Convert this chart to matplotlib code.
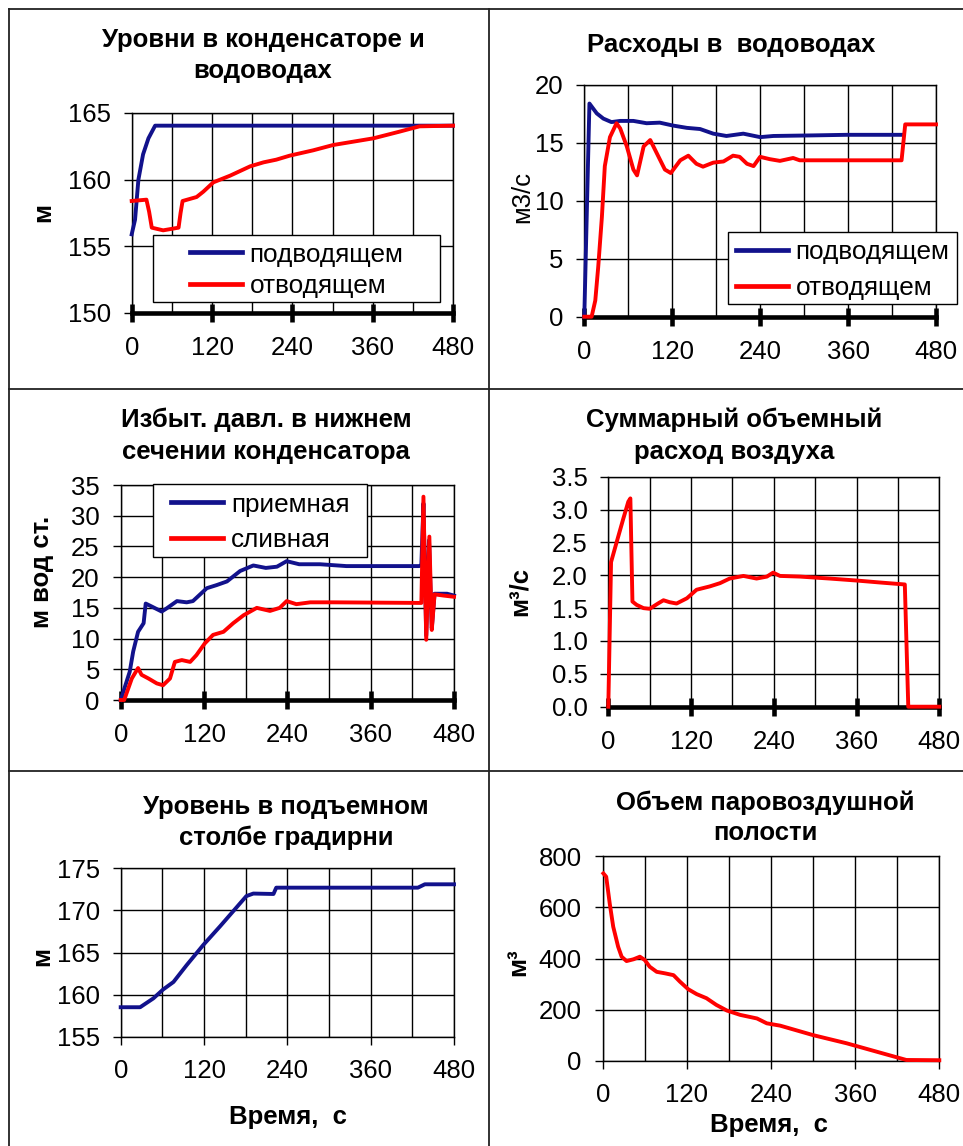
import matplotlib
matplotlib.use('Agg')
import matplotlib.pyplot as plt
from matplotlib.ticker import MultipleLocator, FormatStrFormatter
from matplotlib.patches import Rectangle
from matplotlib.lines import Line2D

plt.rcParams['font.family'] = ['Liberation Sans', 'DejaVu Sans']

# ---------------- data ----------------
# Panel 1: levels in condenser & water conduits (m)
lvl_in_t = [0, 5, 10, 17, 25, 35, 480]
lvl_in_v = [155.9, 157.0, 160.0, 161.9, 163.1, 164.05, 164.05]
lvl_out_t = [0, 22, 26, 30, 47, 70, 73, 76, 97, 107, 122, 147, 177, 197, 216, 236, 271, 301, 361, 400, 430, 480]
lvl_out_v = [158.4, 158.5, 157.6, 156.4, 156.2, 156.4, 157.5, 158.4, 158.7, 159.1, 159.8, 160.3, 161.0, 161.3, 161.5, 161.8, 162.2, 162.6, 163.1, 163.6, 164.0, 164.05]

# Panel 2: flow rates (m3/s)
q_in_t = [0, 7, 17, 26, 37, 49, 67, 85, 103, 121, 140, 158, 176, 194, 217, 240, 258, 312, 358, 433]
q_in_v = [0, 18.4, 17.55, 17.1, 16.8, 16.9, 16.9, 16.7, 16.75, 16.5, 16.3, 16.2, 15.8, 15.6, 15.8, 15.5, 15.6, 15.65, 15.7, 15.7]
q_out_t = [0, 10, 15, 19, 24, 28, 35, 44, 49, 58, 67, 72, 81, 90, 99, 110, 118, 131, 142, 153, 162, 176, 190, 203, 212, 222, 231, 240, 253, 267, 285, 294, 433, 438, 480]
q_out_v = [0, 0, 1.4, 4.3, 8.6, 13.0, 15.5, 16.7, 16.25, 14.7, 12.7, 12.2, 14.7, 15.25, 14.1, 12.7, 12.4, 13.5, 13.9, 13.2, 12.95, 13.3, 13.4, 13.9, 13.8, 13.2, 13.0, 13.8, 13.6, 13.45, 13.7, 13.5, 13.5, 16.6, 16.6]

# Panel 3: overpressure (m water column)
p_in_t = [0, 13, 18, 25, 33, 36, 45, 59, 66, 81, 95, 104, 124, 138, 153, 172, 191, 209, 225, 239, 257, 287, 325, 430, 433, 436, 440, 444, 448, 452, 470, 480]
p_in_v = [0, 4.6, 7.9, 11.1, 12.5, 15.7, 15.2, 14.4, 14.9, 16.1, 15.9, 16.1, 18.2, 18.7, 19.3, 21.0, 21.9, 21.5, 21.7, 22.6, 22.1, 22.1, 21.8, 21.8, 22.0, 32.0, 10.5, 26.0, 11.7, 17.3, 17.3, 17.0]
p_out_t = [0, 5, 16, 25, 30, 40, 52, 61, 71, 78, 88, 100, 109, 121, 133, 148, 162, 177, 196, 215, 229, 239, 253, 273, 306, 433, 436, 440, 444.5, 448, 452, 465, 480]
p_out_v = [0, 0, 3.5, 5.2, 4.1, 3.5, 2.7, 2.4, 3.5, 6.2, 6.5, 6.2, 7.3, 9.2, 10.6, 11.1, 12.5, 13.8, 15.0, 14.5, 15.0, 16.1, 15.6, 15.9, 15.9, 15.8, 33.1, 9.8, 26.6, 11.4, 17.2, 17.0, 16.8]

# Panel 4: total air volume flow (m3/s)
air_t = [0, 4, 12, 22, 29, 32, 35, 41, 51, 60, 72, 80, 89, 99, 114, 128, 147, 162, 176, 196, 215, 230, 239, 249, 278, 321, 360, 394, 430, 435, 480]
air_v = [0, 2.2, 2.5, 2.87, 3.12, 3.17, 1.6, 1.55, 1.5, 1.49, 1.57, 1.62, 1.59, 1.57, 1.65, 1.78, 1.83, 1.88, 1.95, 1.99, 1.95, 1.98, 2.04, 1.99, 1.98, 1.95, 1.92, 1.89, 1.86, 0, 0]

# Panel 5: level in riser of cooling tower (m)
riser_t = [0, 28, 47, 61, 76, 95, 119, 143, 162, 181, 191, 220, 224, 428, 438, 480]
riser_v = [158.5, 158.5, 159.55, 160.6, 161.5, 163.5, 165.9, 168.1, 169.9, 171.7, 172.0, 171.95, 172.7, 172.7, 173.1, 173.1]

# Panel 6: volume of steam-air cavity (m3)
vol_t = [1, 5, 10, 15, 22, 27, 34, 44, 53, 60, 67, 77, 89, 101, 110, 122, 134, 148, 162, 177, 196, 220, 234, 253, 300, 348, 395, 433, 480]
vol_v = [732, 719, 615, 524, 446, 407, 390, 397, 407, 394, 368, 348, 342, 335, 310, 280, 261, 245, 219, 197, 180, 166, 147, 138, 101, 69, 33, 4, 3]

x_ticks = [0, 120, 240, 360, 480]

titles = [
    ["Уровни в конденсаторе и", "водоводах"],
    ["Расходы в  водоводах"],
    ["Избыт. давл. в нижнем", "сечении конденсатора"],
    ["Суммарный объемный", "расход воздуха"],
    ["Уровень в подъемном", "столбе градирни"],
    ["Объем паровоздушной", "полости"],
]
leg_labels_1 = ["подводящем", "отводящем"]
leg_labels_3 = ["приемная", "сливная"]
xlabel_text = "Время,  с"

# ---------------- figure ----------------
W, H = 963, 1146
fig = plt.figure(figsize=(W / 100, H / 100), dpi=100)
BLUE = '#12128c'
RED = '#ff0000'
FS = 18.5
TFS = 18.5
LFS = 18.8
LW = 2.8


def fx(px):
    return px / W


def fy(py):
    return 1 - py / H


def make_ax(x0, x1, y0, y1, ylim, ystep, thick=True, yfmt=None):
    ax = fig.add_axes([fx(x0), fy(y1), (x1 - x0) / W, (y1 - y0) / H])
    ax.set_xlim(0, 480)
    ax.set_ylim(*ylim)
    ax.xaxis.set_major_locator(MultipleLocator(120))
    ax.xaxis.set_minor_locator(MultipleLocator(60))
    ax.yaxis.set_major_locator(MultipleLocator(ystep))
    if yfmt:
        ax.yaxis.set_major_formatter(FormatStrFormatter(yfmt))
    ax.grid(True, which='both', color='black', lw=1.0)
    ax.set_axisbelow(True)
    for s in ['top', 'right', 'left']:
        ax.spines[s].set_linewidth(1.0)
    if thick:
        ax.spines['bottom'].set_linewidth(3.3)
        ax.tick_params(axis='x', which='major', direction='inout', length=13,
                       width=3.3, pad=10, labelsize=FS)
    else:
        ax.spines['bottom'].set_linewidth(1.0)
        ax.tick_params(axis='x', which='major', direction='out', length=6,
                       width=1, pad=10, labelsize=FS)
    ax.tick_params(axis='x', which='minor', length=0)
    ax.tick_params(axis='y', direction='out', length=6, width=1, pad=9,
                   labelsize=FS)
    return ax


def title(lines, cx, ys):
    for t, y in zip(lines, ys):
        fig.text(fx(cx), fy(y), t, ha='center', va='center', fontsize=TFS,
                 fontweight='bold')


def legend_box(handles, labels, box, row_gap, cy_shift=0):
    x0, y0, x1, y1 = box
    fig.add_artist(Rectangle((fx(x0), fy(y1)), (x1 - x0) / W, (y1 - y0) / H,
                             transform=fig.transFigure, fill=True,
                             facecolor='white', edgecolor='black', lw=1.0,
                             zorder=5))
    leg = fig.legend(handles, labels, loc='center',
                     bbox_to_anchor=(fx((x0 + x1) / 2),
                                     fy((y0 + y1) / 2 + cy_shift)),
                     bbox_transform=fig.transFigure, frameon=False,
                     fontsize=LFS, handlelength=2.0, handletextpad=0.3,
                     labelspacing=row_gap, borderpad=0.2)
    leg.set_zorder(6)
    for h in leg.get_lines():
        h.set_linewidth(3.4)
    return leg


# Table lines
for (xa, ya, xb, yb) in [(9, 9, 963, 9), (9, 9, 9, 1146), (489, 9, 489, 1146),
                         (9, 389, 963, 389), (9, 771, 963, 771)]:
    fig.add_artist(Line2D([fx(xa), fx(xb)], [fy(ya), fy(yb)],
                          transform=fig.transFigure, color='#222222', lw=1.3))

# ---- Panel 1 ----
ax1 = make_ax(131.7, 453, 113, 313, (150, 165), 5)
l1, = ax1.plot(lvl_in_t, lvl_in_v, color=BLUE, lw=LW, zorder=3, clip_on=False)
l2, = ax1.plot(lvl_out_t, lvl_out_v, color=RED, lw=LW, zorder=3, clip_on=False)
title(titles[0], 263, [40, 71])
fig.text(fx(43), fy(213), "м", rotation=90, ha='center', va='center',
         fontsize=TFS, fontweight='bold')
legend_box([l1, l2], leg_labels_1, (153, 235, 440, 302), 0.3, 2)

# ---- Panel 2 ----
ax2 = make_ax(584.3, 936, 85, 316.7, (0, 20), 5)
m1, = ax2.plot(q_in_t, q_in_v, color=BLUE, lw=LW, zorder=3, clip_on=False)
m2, = ax2.plot(q_out_t, q_out_v, color=RED, lw=LW, zorder=3, clip_on=False)
title(titles[1], 731, [45])
fig.text(fx(522), fy(197), "м3/с", rotation=90, ha='center', va='center',
         fontsize=TFS)
legend_box([m1, m2], leg_labels_1, (728, 232, 957, 304), 0.45, 2)

# ---- Panel 3 ----
ax3 = make_ax(120.7, 454, 485, 700, (0, 35), 5)
n1, = ax3.plot(p_in_t, p_in_v, color=BLUE, lw=LW, zorder=3, clip_on=False)
n2, = ax3.plot(p_out_t, p_out_v, color=RED, lw=LW, zorder=3, clip_on=False)
title(titles[2], 266, [420, 452])
fig.text(fx(42), fy(572), "м вод ст.", rotation=90, ha='center', va='center',
         fontsize=TFS, fontweight='bold')
legend_box([n1, n2], leg_labels_3, (153, 484, 367, 557), 0.45, 2)

# ---- Panel 4 ----
ax4 = make_ax(608.3, 939.3, 476.7, 706.7, (0, 3.5), 0.5, yfmt='%.1f')
ax4.plot(air_t, air_v, color=RED, lw=LW, zorder=3, clip_on=False)
title(titles[3], 734, [420, 452])
fig.text(fx(520), fy(592), "м³/с", rotation=90, ha='center', va='center',
         fontsize=TFS, fontweight='bold')

# ---- Panel 5 ----
ax5 = make_ax(120.7, 454, 868.3, 1036.7, (155, 175), 5, thick=False)
ax5.plot(riser_t, riser_v, color=BLUE, lw=LW, zorder=3, clip_on=False)
title(titles[4], 286, [807, 838])
fig.text(fx(42), fy(957), "м", rotation=90, ha='center', va='center',
         fontsize=TFS, fontweight='bold')
fig.text(fx(288), fy(1117), xlabel_text, ha='center', va='center',
         fontsize=TFS, fontweight='bold')

# ---- Panel 6 ----
ax6 = make_ax(602.7, 939.3, 856, 1061, (0, 800), 200, thick=False)
ax6.plot(vol_t, vol_v, color=RED, lw=LW, zorder=3, clip_on=False)
title(titles[5], 765, [803, 833])
fig.text(fx(518), fy(962), "м³", rotation=90, ha='center', va='center',
         fontsize=TFS, fontweight='bold')
fig.text(fx(769), fy(1125), xlabel_text, ha='center', va='center',
         fontsize=TFS, fontweight='bold')

for ax in [ax1, ax2, ax3, ax4, ax5, ax6]:
    ax.set_xticks(x_ticks)

fig.savefig('out.png', dpi=100)
